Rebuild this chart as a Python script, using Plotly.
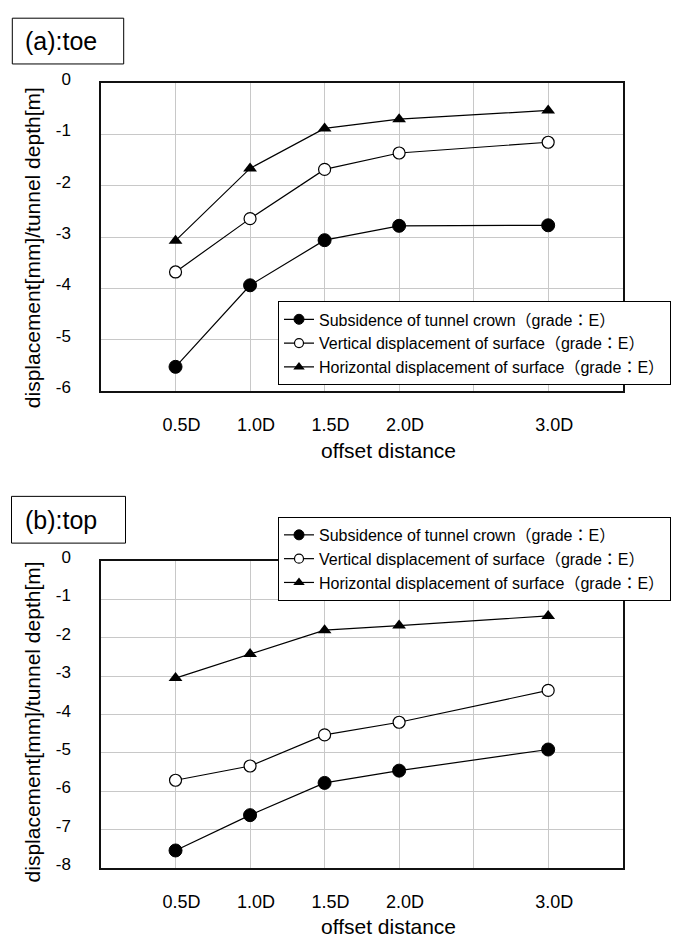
import plotly.graph_objects as go

W, H = 674, 944

# ---------------- data ----------------
offset_vals = [0.5, 1.0, 1.5, 2.0, 3.0]
x_grid_vals = [0.5, 1.0, 1.5, 2.0, 2.5, 3.0]
x_tick_text = ["0.5D", "1.0D", "1.5D", "2.0D", "", "3.0D"]

series_names = [
    "Subsidence of tunnel crown（grade：E）",
    "Vertical displacement of surface（grade：E）",
    "Horizontal displacement of surface（grade：E）",
]

# (a): toe
toe_crown = [-5.53, -3.94, -3.06, -2.78, -2.77]
toe_vertical = [-3.68, -2.64, -1.68, -1.36, -1.15]
toe_horizontal = [-3.07, -1.66, -0.88, -0.70, -0.53]

# (b): top
top_crown = [-7.54, -6.62, -5.78, -5.46, -4.91]
top_vertical = [-5.71, -5.34, -4.53, -4.20, -3.37]
top_horizontal = [-3.05, -2.42, -1.80, -1.68, -1.43]

yticks_a = [0, -1, -2, -3, -4, -5, -6]
yticks_b = [0, -1, -2, -3, -4, -5, -6, -7, -8]
ytext_a = ["0", "-1", "-2", "-3", "-4", "-5", "-6"]
ytext_b = ["0", "-1", "-2", "-3", "-4", "-5", "-6", "-7", "-8"]

panel_titles = ["(a):toe", "(b):top"]
x_title = "offset distance"
y_title = "displacement[mm]/tunnel depth[m]"

# ---------------- helpers ----------------
def px(x):
    return x / W

def py(y):
    return 1 - y / H

FONT = "Liberation Sans, Arial, Noto Sans CJK JP, sans-serif"

styles = [
    dict(symbol="circle", color="black", line=dict(color="black", width=1)),
    dict(symbol="circle", color="white", line=dict(color="black", width=1.2)),
    dict(symbol="triangle-up", color="black", line=dict(color="black", width=0)),
]
plot_sizes = [13, 12, 12]
legend_sizes = [10, 9, 10]

fig = go.Figure()

panels = [
    dict(xa="x", ya="y", data=[toe_crown, toe_vertical, toe_horizontal], legend="legend"),
    dict(xa="x2", ya="y2", data=[top_crown, top_vertical, top_horizontal], legend="legend2"),
]

for p in panels:
    for name, vals, st, sz in zip(series_names, p["data"], styles, plot_sizes):
        fig.add_trace(go.Scatter(
            x=offset_vals, y=vals, name=name, mode="lines+markers",
            xaxis=p["xa"], yaxis=p["ya"], showlegend=False,
            line=dict(color="black", width=1.2),
            marker=dict(size=sz, **st), cliponaxis=False,
        ))
    # legend-only entries with smaller symbols
    for name, st, sz in zip(series_names, styles, legend_sizes):
        fig.add_trace(go.Scatter(
            x=[None], y=[None], name=name, mode="lines+markers",
            xaxis=p["xa"], yaxis=p["ya"], legend=p["legend"], showlegend=True,
            line=dict(color="black", width=1.2),
            marker=dict(size=sz, **st),
        ))

# plot areas in pixels
a_left, a_right, a_top, a_bot = 101, 622.7, 71.7, 385.7
b_left, b_right, b_top, b_bot = 101, 622.7, 559.3, 872.7

xaxis_common = dict(
    range=[0, 3.5], tickvals=x_grid_vals, ticktext=x_tick_text,
    showgrid=True, gridcolor="#c8c8c8", gridwidth=1,
    showline=True, linecolor="#111111", linewidth=1.5, mirror=True,
    ticks="", zeroline=False, ticklabelstandoff=17, ticklabelshift=6,
    tickfont=dict(family=FONT, size=18, color="black"),
)
yaxis_common = dict(
    showgrid=True, gridcolor="#c8c8c8", gridwidth=1,
    showline=True, linecolor="#111111", linewidth=1.5, mirror=True,
    ticks="", zeroline=False, ticklabelstandoff=25, ticklabelshift=-4,
    tickfont=dict(family=FONT, size=17, color="black"),
)

legend_common = dict(
    bgcolor="white", bordercolor="black", borderwidth=1,
    font=dict(family=FONT, size=16, color="black"),
    xanchor="left", yanchor="top", tracegroupgap=0,
    itemsizing="trace", itemwidth=30,
)

fig.update_layout(
    width=W, height=H, margin=dict(l=0, r=0, t=0, b=0),
    paper_bgcolor="white", plot_bgcolor="white",
    font=dict(family=FONT, color="black"),
    xaxis=dict(domain=[px(a_left), px(a_right)], anchor="y", **xaxis_common),
    yaxis=dict(domain=[py(a_bot), py(a_top)], anchor="x", range=[-6, 0],
               tickvals=yticks_a, ticktext=ytext_a, **yaxis_common),
    xaxis2=dict(domain=[px(b_left), px(b_right)], anchor="y2", **xaxis_common),
    yaxis2=dict(domain=[py(b_bot), py(b_top)], anchor="x2", range=[-8, 0],
                tickvals=yticks_b, ticktext=ytext_b, **yaxis_common),
    legend=dict(x=px(278), y=py(294.3), **legend_common),
    legend2=dict(x=px(278), y=py(514.3), **legend_common),
    showlegend=True,
)

# panel title boxes
boxes = [(12.3, 5.3, 123.7, 52.0), (11.5, 493.3, 125.5, 541.0)]
for (x0, y0, x1, y1), t in zip(boxes, panel_titles):
    fig.add_shape(type="rect", xref="paper", yref="paper",
                  x0=px(x0), x1=px(x1), y0=py(y1), y1=py(y0),
                  line=dict(color="black", width=1), fillcolor="white", layer="above")
    fig.add_annotation(xref="paper", yref="paper", x=px(23), y=py((y0 + y1) / 2),
                       xanchor="left", yanchor="middle", showarrow=False,
                       text=t, font=dict(family=FONT, size=25, color="black"))

# axis titles
for yc in (240, 724):
    fig.add_annotation(xref="paper", yref="paper", x=px(32), y=py(yc),
                       xanchor="center", yanchor="middle", showarrow=False,
                       textangle=-90, text=y_title,
                       font=dict(family=FONT, size=21, color="black"))
for yc in (446, 932):
    fig.add_annotation(xref="paper", yref="paper", x=px(388), y=py(yc),
                       xanchor="center", yanchor="middle", showarrow=False,
                       text=x_title, font=dict(family=FONT, size=21, color="black"))

fig.write_html("out.html", config={"displayModeBar": False},
               post_script="document.body.style.margin='0';document.body.style.overflow='hidden';")
